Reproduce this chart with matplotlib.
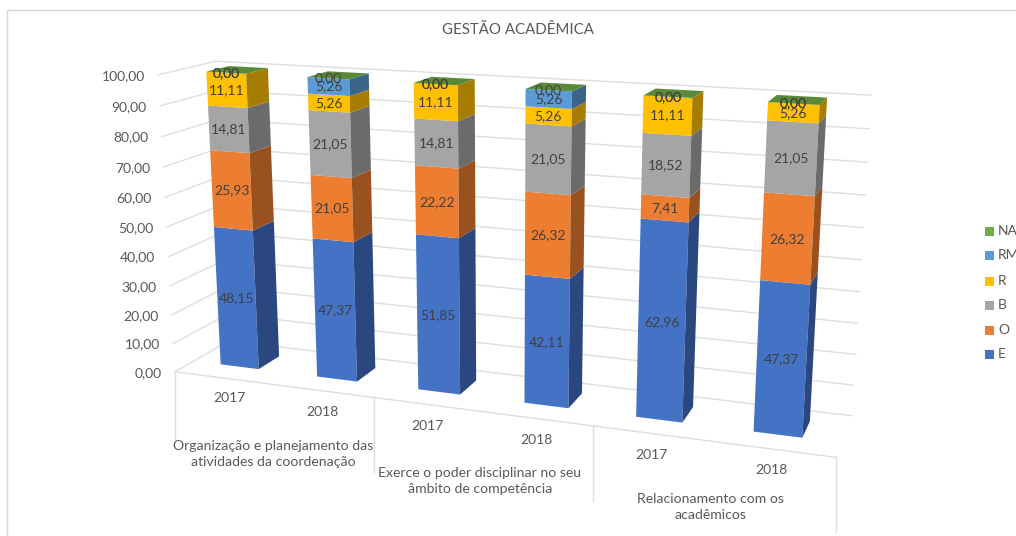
import numpy as np
import matplotlib
matplotlib.use("Agg")
import matplotlib.pyplot as plt
from matplotlib.patches import Rectangle

# ---- data ----
title = "GESTÃO ACADÊMICA"
years = ["2017", "2018", "2017", "2018", "2017", "2018"]
groups = ["Organização e planejamento das\natividades da coordenação",
          "Exerce o poder disciplinar no seu\nâmbito de competência",
          "Relacionamento com os\nacadêmicos"]
series_names = ["E", "O", "B", "R", "RM", "NA"]
E = [48.15, 47.37, 51.85, 42.11, 62.96, 47.37]
O = [25.93, 21.05, 22.22, 26.32, 7.41, 26.32]
B = [14.81, 21.05, 14.81, 21.05, 18.52, 21.05]
R = [11.11, 5.26, 11.11, 5.26, 11.11, 5.26]
RM = [0.00, 5.26, 0.00, 5.26, 0.00, 0.00]
NA = [0.00, 0.00, 0.00, 0.00, 0.00, 0.00]
series = [E, O, B, R, RM, NA]
ticks = list(range(0, 101, 10))

front_col = ["#4472C4", "#ED7D31", "#A5A5A5", "#FFC000", "#5B9BD5", "#70AD47"]
side_col = ["#2A4780", "#9A5120", "#6B6B6B", "#A67D00", "#3B6588", "#4A7A2E"]
top_col = "#5A8A37"
GRID = "#DEDEDE"
TXT = "#595959"
LBL = "#404040"
FONT = "Lato"

# ---- perspective scale: (slot fraction, depth, value) -> pixel ----
anchors = [((0, 0, 0), (176, 372)), ((1, 0, 0), (835, 457)),
           ((0, 1, 0), (228, 341)), ((1, 1, 0), (853, 416)),
           ((0, 0, 1), (157, 75)), ((0, 1, 1), (217, 61)),
           ((1, 1, 1), (870, 95)), ((1/3, 0, 0), (374, 397)),
           ((2/3, 0, 0), (592, 426)), ((1, 0, 1), (857, 114))]
A, b = [], []
for (u, v, w), (x, y) in anchors:
    A.append([u, v, w, 1, 0, 0, 0, 0, -x*u, -x*v, -x*w]); b.append(x)
    A.append([0, 0, 0, 0, u, v, w, 1, -y*u, -y*v, -y*w]); b.append(y)
m = np.linalg.lstsq(np.array(A, float), np.array(b, float), rcond=None)[0]


def proj(u, v, val):
    w = val / 100.0
    d = m[8]*u + m[9]*v + m[10]*w + 1
    return ((m[0]*u + m[1]*v + m[2]*w + m[3]) / d,
            (m[4]*u + m[5]*v + m[6]*w + m[7]) / d)


fig = plt.figure(figsize=(10.16, 5.36), dpi=100)
ax = fig.add_axes([0, 0, 1, 1])
ax.set_xlim(0, 1016)
ax.set_ylim(536, 0)
ax.axis("off")

# chart frame
ax.plot([7, 7, 1016], [536, 10, 10], color="#D9D9D9", lw=1, zorder=1)

# walls
for t in ticks:
    pts = [proj(0, 0, t), proj(0, 1, t), proj(1, 1, t)]
    ax.plot(*zip(*pts), color=GRID, lw=1, zorder=1)
    x, y = proj(0, 0, t)
    ax.text(x - 13.5, y + 1, f"{t:.2f}".replace(".", ","), ha="right", va="center",
            color=TXT, fontsize=10, family=FONT)
ax.plot(*zip(proj(0, 0, 0), proj(1, 0, 0)), color=GRID, lw=1, zorder=1)
drops = [68, 75, 75, 75]
for k in range(4):
    x, y = proj(k/3, 0, 0)
    ax.plot([x, x], [y, y + drops[k]], color=GRID, lw=1, zorder=1)

# bars
a0, a1, v0, v1 = 0.285, 0.685, 0.336, 0.74
for i in range(6):
    u0, u1 = (i + a0)/6, (i + a1)/6
    base = 0.0
    for s, vals in enumerate(series):
        h = vals[i]
        top = base + h
        if h > 0:
            ax.fill(*zip(proj(u0, v0, base), proj(u1, v0, base), proj(u1, v0, top), proj(u0, v0, top)),
                    color=front_col[s], lw=0, zorder=3)
            ax.fill(*zip(proj(u1, v0, base), proj(u1, v1, base), proj(u1, v1, top), proj(u1, v0, top)),
                    color=side_col[s], lw=0, zorder=3)
        base = top
    ax.fill(*zip(proj(u0, v0, base), proj(u1, v0, base), proj(u1, v1, base), proj(u0, v1, base)),
            color=top_col, lw=0, zorder=3)
    base = 0.0
    for s, vals in enumerate(series):
        h = vals[i]
        x, y = proj((u0 + u1)/2, v0, base + h/2)
        ax.text(x, y, f"{h:.2f}".replace(".", ","), ha="center", va="center",
                color=LBL, fontsize=10, family=FONT, zorder=5)
        base += h

# axis labels
year_xy = [(229, 398), (322, 412), (427, 426), (536, 440), (651, 455), (771, 470)]
for (x, y), t in zip(year_xy, years):
    ax.text(x, y, t, ha="center", va="center", color=TXT, fontsize=10, family=FONT)
group_xy = [(273, 454), (480, 481), (710, 507)]
for (x, y), t in zip(group_xy, groups):
    ax.text(x, y, t, ha="center", va="center", color=TXT, fontsize=10.1, family=FONT,
            linespacing=1.4, multialignment="center")

ax.text(518, 30, title, ha="center", va="center", color=TXT, fontsize=10.8, family=FONT)

# legend
leg_y = [354, 330, 305, 281, 255, 231]
for name, c, y in zip(series_names, front_col, leg_y):
    ax.add_patch(Rectangle((985, y - 4.5), 9, 9, color=c, lw=0))
    ax.text(998, y, name, ha="left", va="center", color=TXT, fontsize=10, family=FONT)

fig.savefig("out.png", dpi=100)
